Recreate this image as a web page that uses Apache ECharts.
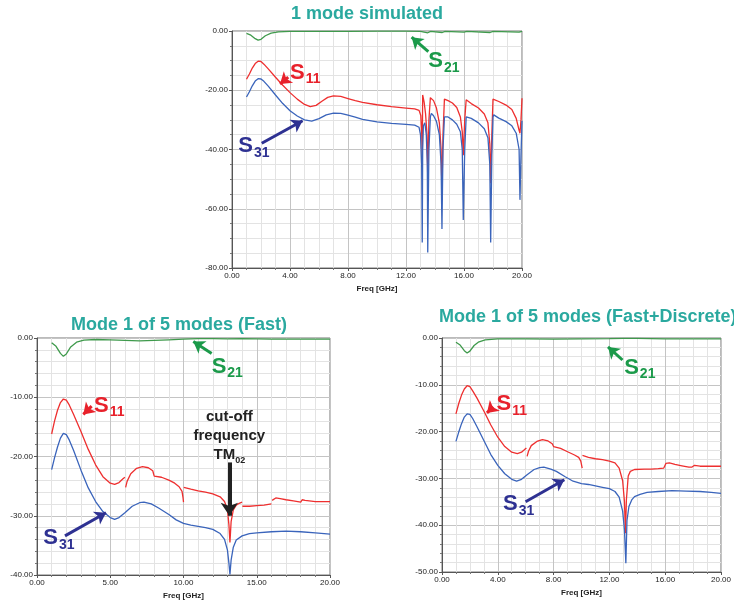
<!DOCTYPE html>
<html>
<head>
<meta charset="utf-8">
<script src="https://cdn.jsdelivr.net/npm/echarts@6/dist/echarts.min.js"></script>
<style>
  html, body { margin: 0; padding: 0; background: #fff; }
  #chart { width: 734px; height: 601px; }
</style>
</head>
<body>
<div id="chart"></div>
<script>
// ---- data: [freq GHz, dB] ----
// panel 1: 1 mode simulated
const topS11 = [[1.0,-16.3],[1.2,-14.5],[1.4,-12.5],[1.6,-11.0],[1.8,-10.2],[2.0,-10.3],[2.2,-11.2],[2.5,-12.8],[3.0,-15.6],[3.5,-18.3],[4.0,-20.8],[4.5,-23.0],[5.0,-24.8],[5.4,-25.5],[5.8,-25.1],[6.2,-23.7],[6.6,-22.4],[7.0,-21.9],[7.5,-22.1],[8.0,-22.8],[8.5,-23.5],[9.0,-24.1],[10.0,-24.9],[11.0,-25.5],[12.0,-26.0],[12.6,-26.3],[12.9,-26.8],[13.02,-28.5],[13.08,-34],[13.12,-42.4],[13.15,-21.6],[13.25,-24],[13.35,-28],[13.45,-35],[13.5,-50.3],[13.58,-30],[13.68,-22.5],[13.72,-22.2],[13.9,-23.5],[14.1,-26],[14.3,-31],[14.42,-40],[14.48,-54.7],[14.55,-35],[14.65,-23],[14.69,-22.5],[14.9,-23.5],[15.2,-24.3],[15.5,-25.8],[15.75,-29],[15.88,-34],[15.95,-41.9],[16.05,-30],[16.15,-23.2],[16.2,-23.1],[16.5,-24.5],[17.0,-26.0],[17.4,-28],[17.65,-31],[17.78,-38],[17.84,-51.4],[17.92,-35],[18.0,-23],[18.05,-22.7],[18.4,-23.8],[18.9,-25],[19.3,-26.5],[19.6,-29.5],[19.8,-33.5],[19.86,-34.5],[19.93,-30],[20.0,-22.7]];
const topS31 = [[1.0,-22.3],[1.2,-20.5],[1.4,-18.5],[1.6,-16.9],[1.8,-16.1],[2.0,-16.2],[2.2,-17.0],[2.5,-18.6],[3.0,-21.6],[3.5,-24.5],[4.0,-26.9],[4.5,-28.7],[5.0,-30.0],[5.5,-30.4],[6.0,-29.6],[6.5,-28.3],[7.0,-27.7],[7.5,-27.8],[8.0,-28.4],[8.5,-29.1],[9.0,-29.8],[10.0,-30.7],[11.0,-31.2],[12.0,-31.5],[12.6,-31.8],[12.9,-32.5],[13.0,-35],[13.08,-45],[13.12,-71.4],[13.15,-40],[13.2,-32],[13.3,-31],[13.4,-35],[13.47,-45],[13.5,-74.8],[13.58,-40],[13.68,-29],[13.75,-27.8],[13.9,-28.6],[14.1,-30.5],[14.3,-35],[14.42,-45],[14.48,-66.8],[14.55,-40],[14.65,-29],[14.7,-28.4],[14.9,-29],[15.2,-30],[15.5,-31.5],[15.75,-34],[15.88,-40],[15.95,-63.8],[16.05,-40],[16.15,-29],[16.2,-28.6],[16.5,-29.5],[17.0,-31],[17.4,-33],[17.65,-36],[17.78,-45],[17.84,-71.4],[17.92,-42],[18.0,-29],[18.05,-28.3],[18.4,-29.4],[18.9,-30.6],[19.3,-32],[19.6,-34.5],[19.8,-40],[19.86,-57],[19.93,-42],[20.0,-30.3]];
const topS21 = [[1.0,-0.8],[1.3,-1.4],[1.6,-2.6],[1.8,-3.1],[2.0,-2.8],[2.3,-1.6],[2.7,-0.7],[3.2,-0.3],[4,-0.15],[6,-0.1],[8,-0.1],[10,-0.05],[12,-0.05],[13,-0.1],[13.5,-0.6],[13.7,-0.15],[14.5,-0.5],[14.7,-0.1],[16,-0.4],[16.2,-0.1],[17.8,-0.5],[18,-0.1],[19.8,-0.4],[20,-0.1]];

// panel 2: Mode 1 of 5 modes (Fast)
const fastS11 = [[1.0,-16.2],[1.2,-14.0],[1.4,-12.2],[1.6,-10.9],[1.8,-10.3],[2.0,-10.5],[2.2,-11.3],[2.5,-12.9],[3.0,-15.8],[3.5,-18.8],[4.0,-21.4],[4.5,-23.4],[5.0,-24.5],[5.3,-24.7],[5.6,-24.4],[5.85,-23.8],[6.0,-23.5],[6.02,'-'],
  [6.05,-25.2],[6.15,-24.2],[6.4,-22.9],[6.8,-22.0],[7.2,-21.7],[7.6,-21.9],[7.9,-22.4],[8.0,-23.3],[8.1,-23.1],[8.5,-23.5],[9.0,-24.0],[9.4,-24.5],[9.7,-25.1],[9.9,-25.9],[9.97,-27.0],[10.0,-27.7],[10.01,'-'],
  [10.02,-25.2],[10.5,-25.5],[11.0,-25.8],[11.5,-26.0],[12.0,-26.3],[12.5,-26.8],[12.8,-27.6],[13.0,-29],[13.1,-31.5],[13.17,-34.5],[13.25,-31],[13.4,-29],[13.6,-28.2],[13.8,-27.9],[14.0,-27.7],[14.01,'-'],
  [14.02,-28.4],[14.5,-28.4],[15.0,-28.3],[15.5,-28.2],[16.0,-28.0],[16.02,'-'],
  [16.05,-27.4],[16.3,-27.0],[16.6,-27.1],[17.0,-27.3],[17.5,-27.5],[18.0,-27.7],[18.1,-27.3],[18.3,-27.4],[19.0,-27.6],[20.0,-27.6]];
const fastS31 = [[1.0,-22.2],[1.2,-20.2],[1.4,-18.4],[1.6,-16.9],[1.8,-16.1],[2.0,-16.3],[2.2,-17.2],[2.5,-19.0],[3.0,-22.3],[3.5,-25.3],[4.0,-27.6],[4.5,-29.3],[5.0,-30.3],[5.3,-30.6],[5.6,-30.3],[6.0,-29.5],[6.5,-28.4],[7.0,-27.8],[7.3,-27.7],[7.8,-28.0],[8.3,-28.7],[9.0,-29.8],[9.5,-30.7],[10.0,-31.3],[10.5,-31.6],[11.0,-31.8],[11.5,-32.0],[12.0,-32.3],[12.5,-33.0],[12.8,-34.0],[13.0,-35.8],[13.1,-38.0],[13.17,-39.9],[13.25,-37.5],[13.4,-35.3],[13.6,-34.1],[14.0,-33.4],[14.5,-33.0],[15.0,-32.9],[16.0,-32.7],[17.0,-32.6],[18.0,-32.7],[19.0,-32.9],[20.0,-33.1]];
const fastS21 = [[1.0,-0.8],[1.3,-1.4],[1.6,-2.6],[1.8,-3.1],[2.0,-2.7],[2.3,-1.5],[2.7,-0.7],[3.2,-0.35],[4,-0.25],[5,-0.3],[6,-0.4],[7,-0.5],[8,-0.4],[9,-0.3],[10,-0.2],[11,-0.1],[12,-0.1],[13,-0.15],[14,-0.1],[16,-0.2],[18,-0.2],[20,-0.2]];

// panel 3: Mode 1 of 5 modes (Fast+Discrete)
const discS11 = [[1.0,-16.2],[1.2,-14.0],[1.4,-12.2],[1.6,-10.9],[1.8,-10.2],[2.0,-10.4],[2.2,-11.3],[2.5,-12.8],[3.0,-15.6],[3.5,-18.6],[4.0,-21.2],[4.5,-23.2],[5.0,-24.4],[5.4,-24.7],[5.7,-24.4],[5.9,-23.9],[6.05,-23.5],[6.07,'-'],
  [6.1,-25.3],[6.2,-24.2],[6.4,-23.0],[6.8,-22.1],[7.2,-21.7],[7.6,-22.0],[7.9,-22.6],[8.0,-23.2],[8.1,-23.0],[8.5,-23.6],[9.0,-24.3],[9.5,-25.0],[9.8,-25.5],[9.95,-26.3],[10.05,-27.8],[10.06,'-'],
  [10.07,-25.1],[10.5,-25.5],[11.0,-25.8],[11.5,-26.0],[12.0,-26.3],[12.4,-26.7],[12.7,-27.8],[12.95,-30.5],[13.08,-35],[13.15,-41.7],[13.22,-34.5],[13.35,-29.5],[13.5,-28.5],[13.8,-28.1],[14.5,-28.0],[15.0,-28.0],[15.5,-27.9],[15.9,-27.8],[16.05,-26.8],[16.3,-26.7],[16.7,-27.0],[17.2,-27.3],[17.7,-27.6],[17.9,-27.6],[18.1,-27.2],[18.5,-27.4],[19.0,-27.4],[20.0,-27.4]];
const discS31 = [[1.0,-22.1],[1.2,-20.1],[1.4,-18.3],[1.6,-16.9],[1.8,-16.2],[2.0,-16.3],[2.2,-17.2],[2.5,-18.9],[3.0,-21.9],[3.5,-24.9],[4.0,-27.2],[4.5,-29.0],[5.0,-30.2],[5.35,-30.6],[5.7,-30.2],[6.1,-29.2],[6.6,-28.1],[7.0,-27.7],[7.3,-27.6],[7.8,-28.0],[8.2,-28.5],[8.8,-29.6],[9.4,-30.6],[10.0,-31.1],[10.5,-31.3],[11.0,-31.6],[11.5,-31.9],[12.0,-32.2],[12.4,-32.8],[12.7,-34.0],[12.95,-37],[13.08,-41],[13.18,-48.1],[13.26,-39],[13.4,-36],[13.6,-34.6],[13.8,-33.9],[14.2,-33.4],[14.7,-33.0],[15.5,-32.8],[16.5,-32.6],[17.5,-32.7],[18.5,-32.8],[19.3,-33.0],[20.0,-33.2]];
const discS21 = [[1.0,-0.9],[1.3,-1.5],[1.6,-2.7],[1.8,-3.2],[2.0,-2.8],[2.3,-1.6],[2.6,-0.9],[3.1,-0.4],[4,-0.2],[6,-0.2],[8,-0.25],[10,-0.2],[12,-0.15],[13,-0.1],[14,-0.1],[16,-0.2],[18,-0.2],[20,-0.2]];

// annotation positions (data coords): label anchor, arrow [fromX, fromY, toX, toY]
const labelPos = [
  { s21: [13.54, -10.1], s11: [4.0, -14.0], s31: [0.43, -38.8] },
  { s21: [11.92, -4.8],  s11: [3.89, -11.4], s31: [0.43, -33.8] },
  { s21: [13.06, -6.3],  s11: [3.91, -14.1], s31: [4.38, -35.5] }
];
const arrowPos = [
  { s21: [13.54, -7.0, 12.39, -2.1], s11: [3.88, -15.6, 3.31, -17.9], s31: [2.05, -37.9, 4.87, -30.3] },
  { s21: [11.92, -2.6, 10.67, -0.6], s11: [3.73, -11.5, 3.16, -12.9], s31: [1.91, -33.4, 4.71, -29.5] },
  { s21: [12.94, -4.7, 11.90, -1.9], s11: [3.68, -14.7, 3.22, -16.0], s31: [5.99, -35.0, 8.77, -30.3] }
];
const titles = ['1 mode simulated', 'Mode 1 of 5 modes (Fast)', 'Mode 1 of 5 modes (Fast+Discrete)'];

const FONT = 'Liberation Sans, Arial, sans-serif';
const RED = '#ee2f2f', BLUE = '#3a64bb', GREEN = '#3f9a4c';
const RED_T = '#e8212b', BLUE_T = '#2e3192', GREEN_T = '#1b9a4a';

function xAxis(idx, interval, minor) {
  return {
    gridIndex: idx, type: 'value', min: 0, max: 20, interval: interval,
    name: 'Freq [GHz]', nameLocation: 'middle', nameGap: 17,
    nameTextStyle: { fontSize: 8, fontWeight: 'bold', color: '#222', fontFamily: FONT },
    axisLine: { onZero: false, lineStyle: { color: '#555' } },
    axisTick: { length: 3, lineStyle: { color: '#555' } },
    minorTick: { show: true, splitNumber: minor, length: 2, lineStyle: { color: '#777' } },
    axisLabel: { fontSize: 8, color: '#222', fontFamily: FONT, margin: 4, formatter: v => v.toFixed(2) },
    splitLine: { lineStyle: { color: '#c4c4c4' } },
    minorSplitLine: { show: true, lineStyle: { color: '#e3e3e3' } }
  };
}
function yAxis(idx, min, interval, minor) {
  return {
    gridIndex: idx, type: 'value', min: min, max: 0, interval: interval,
    axisLine: { onZero: false, lineStyle: { color: '#555' } },
    axisTick: { length: 3, lineStyle: { color: '#555' } },
    minorTick: { show: true, splitNumber: minor, length: 2, lineStyle: { color: '#777' } },
    axisLabel: { fontSize: 8, color: '#222', fontFamily: FONT, margin: 4, formatter: v => v.toFixed(2) },
    splitLine: { lineStyle: { color: '#c4c4c4' } },
    minorSplitLine: { show: true, lineStyle: { color: '#e3e3e3' } }
  };
}

function label(pos, txt, col) {
  return {
    coord: pos, symbol: 'circle', symbolSize: 0,
    label: {
      show: true, position: 'inside', align: 'left', verticalAlign: 'middle',
      formatter: '{s|S}{b|' + txt + '}',
      rich: {
        s: { fontSize: 22, fontWeight: 'bold', color: col, fontFamily: FONT, lineHeight: 28 },
        b: { fontSize: 14, fontWeight: 'bold', color: col, fontFamily: FONT, lineHeight: 14, verticalAlign: 'bottom', padding: [0, 0, 0, 1] }
      }
    }
  };
}
function arrow(a, col, w) {
  return [
    { coord: [a[0], a[1]], symbol: 'none', lineStyle: { color: col, width: w, type: 'solid' } },
    { coord: [a[2], a[3]], symbol: 'arrow' }
  ];
}
function curve(idx, data, col, extra) {
  const s = {
    type: 'line', xAxisIndex: idx, yAxisIndex: idx, data: data,
    showSymbol: false, symbol: 'none', connectNulls: false,
    lineStyle: { color: col, width: 1.3 }, itemStyle: { color: col },
    silent: true, animation: false, z: 3
  };
  return Object.assign(s, extra || {});
}
function notes(idx, key, tcol, sub) {
  return {
    markPoint: { silent: true, animation: false, data: [label(labelPos[idx][key], sub, tcol)] },
    markLine: {
      silent: true, animation: false, symbolSize: 11, label: { show: false },
      data: [arrow(arrowPos[idx][key], tcol, 3)]
    }
  };
}

const series = [];
const sets = [[topS11, topS31, topS21], [fastS11, fastS31, fastS21], [discS11, discS31, discS21]];
sets.forEach(function (set, i) {
  series.push(curve(i, set[0], RED, notes(i, 's11', RED_T, '11')));
  series.push(curve(i, set[1], BLUE, notes(i, 's31', BLUE_T, '31')));
  series.push(curve(i, set[2], GREEN, notes(i, 's21', GREEN_T, '21')));
});
// cut-off annotation in the Fast panel
series.push({
  type: 'line', xAxisIndex: 1, yAxisIndex: 1, data: [], silent: true, animation: false,
  markPoint: {
    silent: true, animation: false,
    data: [{
      coord: [13.13, -16.6], symbol: 'circle', symbolSize: 0,
      label: {
        show: true, position: 'inside', align: 'center', verticalAlign: 'middle',
        formatter: '{t|cut-off}\n{t|frequency}\n{t|TM}{u|02}',
        rich: {
          t: { fontSize: 15, fontWeight: 'bold', color: '#222', fontFamily: FONT, lineHeight: 19 },
          u: { fontSize: 9, fontWeight: 'bold', color: '#222', fontFamily: FONT, lineHeight: 9, verticalAlign: 'bottom' }
        }
      }
    }]
  },
  markLine: {
    silent: true, animation: false, symbolSize: 13, label: { show: false },
    data: [arrow([13.13, -21.0, 13.13, -30.0], '#222', 4)]
  }
});

const chart = echarts.init(document.getElementById('chart'));
chart.setOption({
  backgroundColor: '#fff',
  animation: false,
  textStyle: { fontFamily: FONT },
  title: [
    { text: titles[0], left: 367, top: 5, textAlign: 'center', padding: 0,
      textStyle: { fontSize: 18, fontWeight: 'bold', color: '#2aa99f', fontFamily: FONT } },
    { text: titles[1], left: 179, top: 316, textAlign: 'center', padding: 0,
      textStyle: { fontSize: 18, fontWeight: 'bold', color: '#2aa99f', fontFamily: FONT } },
    { text: titles[2], left: 439, top: 308, padding: 0,
      textStyle: { fontSize: 18, fontWeight: 'bold', color: '#2aa99f', fontFamily: FONT } }
  ],
  grid: [
    { left: 232, right: 212, top: 31, bottom: 333, show: true, borderColor: '#777', borderWidth: 1 },
    { left: 37, right: 404, top: 338, bottom: 25, show: true, borderColor: '#777', borderWidth: 1 },
    { left: 442, right: 4, top: 338, bottom: 29, show: true, borderColor: '#777', borderWidth: 1 }
  ],
  xAxis: [xAxis(0, 4, 4), xAxis(1, 5, 5), xAxis(2, 4, 4)],
  yAxis: [yAxis(0, -80, 20, 4), yAxis(1, -40, 10, 5), yAxis(2, -50, 10, 5)],
  series: series
});
</script>
</body>
</html>
